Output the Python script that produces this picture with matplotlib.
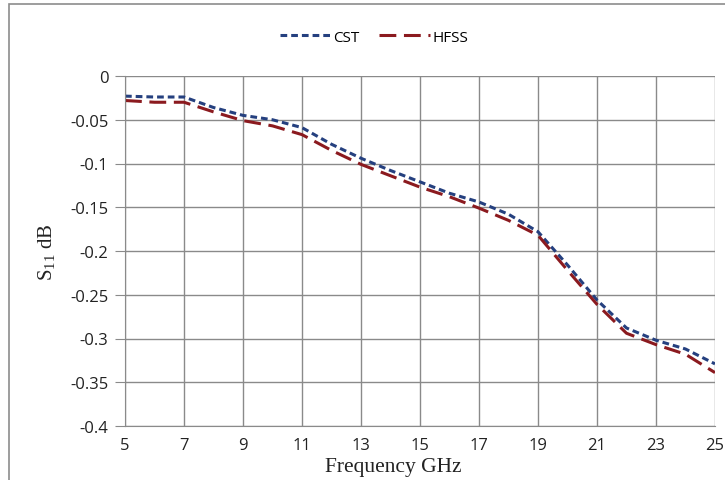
import matplotlib.pyplot as plt
from matplotlib.patches import Rectangle

plt.rcParams["mathtext.fontset"] = "custom"
plt.rcParams["mathtext.rm"] = "Liberation Serif"

# -------------------------------
# Data
# -------------------------------
freq = [5, 6, 7, 8, 9, 10, 11, 12, 13, 14, 15, 16, 17, 18, 19, 20, 21, 22, 23, 24, 25]
cst = [-0.023, -0.024, -0.024, -0.036, -0.045, -0.050, -0.059, -0.078, -0.094, -0.108,
       -0.121, -0.134, -0.144, -0.158, -0.178, -0.216, -0.256, -0.288, -0.302, -0.312, -0.329]
hfss = [-0.028, -0.030, -0.030, -0.041, -0.051, -0.057, -0.067, -0.085, -0.101, -0.114,
        -0.127, -0.138, -0.151, -0.165, -0.182, -0.222, -0.261, -0.294, -0.307, -0.318, -0.339]

xticks = [5, 7, 9, 11, 13, 15, 17, 19, 21, 23, 25]
yticks = [0, -0.05, -0.1, -0.15, -0.2, -0.25, -0.3, -0.35, -0.4]
ytick_labels = ["0", "-0.05", "-0.1", "-0.15", "-0.2", "-0.25", "-0.3", "-0.35", "-0.4"]

# -------------------------------
# Figure
# -------------------------------
fig = plt.figure(figsize=(7.25, 4.81), dpi=100)
ax = fig.add_axes([125 / 725, 1 - 427 / 481, (715 - 125) / 725, (427 - 77) / 481])

# outer chart border (left / top visible, rest cut off)
fig.patches.append(Rectangle((9 / 725, -0.1), 1.2, 1.1 - 5 / 481,
                             transform=fig.transFigure, fill=False,
                             edgecolor="#8c8c8c", linewidth=1.2))

ax.plot(freq, cst, color="#25407f", linewidth=2.2, linestyle=(0, (2.2, 1.3)), label="CST")
ax.plot(freq, hfss, color="#8b1a1f", linewidth=2.2, linestyle=(0, (5.5, 2.5)), label="HFSS")

ax.set_xlim(5, 25)
ax.set_ylim(-0.4, 0)
ax.set_xticks(xticks)
ax.set_yticks(yticks)
ax.set_yticklabels(ytick_labels)

ax.grid(True, color="#8a8a8a", linewidth=1.0)
ax.set_axisbelow(True)
for s in ax.spines.values():
    s.set_visible(False)
ax.spines["left"].set_visible(True)
ax.spines["bottom"].set_visible(True)
ax.spines["left"].set_color("#8a8a8a")
ax.spines["bottom"].set_color("#8a8a8a")

ax.tick_params(axis="y", length=7, color="#8a8a8a", pad=5, labelsize=12, labelcolor="#222222")
ax.tick_params(axis="x", length=0, pad=8, labelsize=12, labelcolor="#222222")
for lab in ax.get_xticklabels() + ax.get_yticklabels():
    lab.set_fontfamily("Open Sans")

fig.text(393 / 725, 1 - 468 / 481, "Frequency GHz", family="Liberation Serif", fontsize=15.5,
         ha="center", va="center", color="#222222")
fig.text(47 / 725, 1 - 252 / 481, "S$_{11}$ dB", family="Liberation Serif", fontsize=15,
         ha="center", va="center", rotation=90, color="#222222")

leg = fig.legend(loc="center", bbox_to_anchor=(374 / 725, 1 - 38 / 481), ncol=2, frameon=False,
                 prop={"family": "Open Sans", "size": 11}, handlelength=3.3, columnspacing=1.3,
                 handletextpad=0.2)

fig.savefig("out.png", dpi=100)
